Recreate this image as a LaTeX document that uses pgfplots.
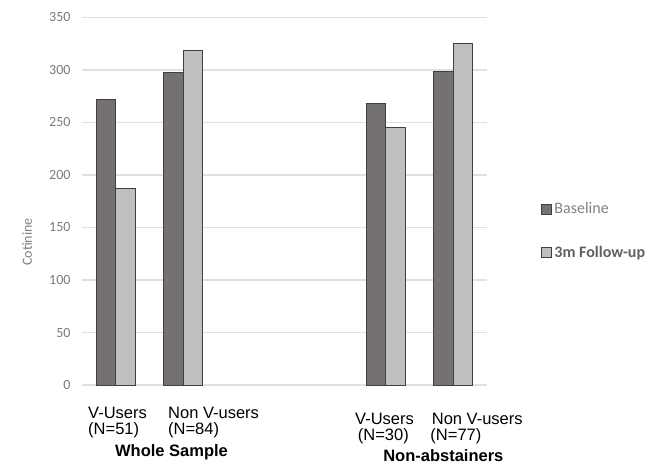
\documentclass[border=0pt]{standalone}
\usepackage{pgfplots}
\pgfplotsset{compat=1.18}
\usepackage{fontspec}
\setmainfont{Carlito}
\newfontfamily\arial{Liberation Sans}

\definecolor{darkbar}{HTML}{767171}
\definecolor{lightbar}{HTML}{BFBFBF}
\definecolor{edge}{HTML}{404040}
\definecolor{gridc}{HTML}{E0E0E0}
\definecolor{ticktxt}{HTML}{7A7A7A}
\definecolor{legtxt}{HTML}{808080}
\definecolor{legtxtb}{HTML}{606060}

\begin{document}
\begin{tikzpicture}
	\useasboundingbox (-82pt,-79pt) rectangle (581pt,385pt);
	\begin{axis}[
	at={(0pt,0pt)},anchor=south west,
	scale only axis,
	clip=false,
	width=405pt,height=367.5pt,
	xmin=-0.5,xmax=5.5,
	ymin=0,ymax=350,
	ytick={0,50,...,350},
	xtick=\empty,
	axis line style={draw=none},
	major tick length=0pt,
	ymajorgrids=true,
	grid style={gridc,line width=1.3pt},
	/pgf/number format/assume math mode=true,
	yticklabel style={font=\fontsize{14}{14}\selectfont,text=ticktxt,xshift=-8pt},
	ybar=0pt,
	bar width=19.5pt,
	legend style={draw=none,fill=none,anchor=north west,
		at={(rel axis cs:1.133,0.503)},
		inner sep=0pt,row sep=26pt,
		nodes={inner sep=2.5pt,anchor=west}},
	legend cell align=left,
	legend image code/.code={\draw[#1,line width=0.9pt] (0pt,-5pt) rectangle (10pt,5pt);},
	]

	\addplot[fill=darkbar,draw=edge,line width=0.9pt]
	coordinates {
		(0, 272)
		(1, 298)
		(4, 268.5)
		(5, 299)
	};
	\addlegendentry{\fontsize{16}{16}\selectfont\textcolor{legtxt}{Baseline}}

	\addplot[fill=lightbar,draw=edge,line width=0.9pt]
	coordinates {
		(0, 187)
		(1, 319)
		(4, 245)
		(5, 325)
	};
	\addlegendentry{\fontsize{16}{16}\selectfont\bfseries\textcolor{legtxtb}{3m Follow-up}}

	% y label
	\node[rotate=90,inner sep=0pt,text=legtxt,font=\fontsize{14}{14}\selectfont]
		at ([xshift=-55pt]rel axis cs:0,0.389) {Cotinine};

	% category labels
	\begin{scope}[every node/.style={inner sep=0pt,font=\arial\fontsize{16.5}{16.5}\selectfont}]
	\node[anchor=base west] at ([yshift=-33.5pt]axis cs:-0.411,0) {V-Users};
	\node[anchor=base west] at ([yshift=-49.5pt]axis cs:-0.411,0) {(N=51)};
	\node[anchor=base west] at ([yshift=-33.5pt]axis cs:0.774,0) {Non V-users};
	\node[anchor=base west] at ([yshift=-49.5pt]axis cs:0.774,0) {(N=84)};
	\node[anchor=base west] at ([yshift=-39.3pt]axis cs:3.544,0) {V-Users};
	\node[anchor=base west] at ([yshift=-55.5pt]axis cs:3.585,0) {(N=30)};
	\node[anchor=base west] at ([yshift=-39.3pt]axis cs:4.68,0) {Non V-users};
	\node[anchor=base west] at ([yshift=-55.5pt]axis cs:4.66,0) {(N=77)};
	\node[anchor=base,font=\arial\bfseries\fontsize{16.5}{16.5}\selectfont] at ([yshift=-71.5pt]axis cs:0.826,0) {Whole Sample};
	\node[anchor=base,font=\arial\bfseries\fontsize{16.5}{16.5}\selectfont] at ([yshift=-76pt]axis cs:4.853,0) {Non-abstainers};
	\end{scope}
	\end{axis}
\end{tikzpicture}
\end{document}
